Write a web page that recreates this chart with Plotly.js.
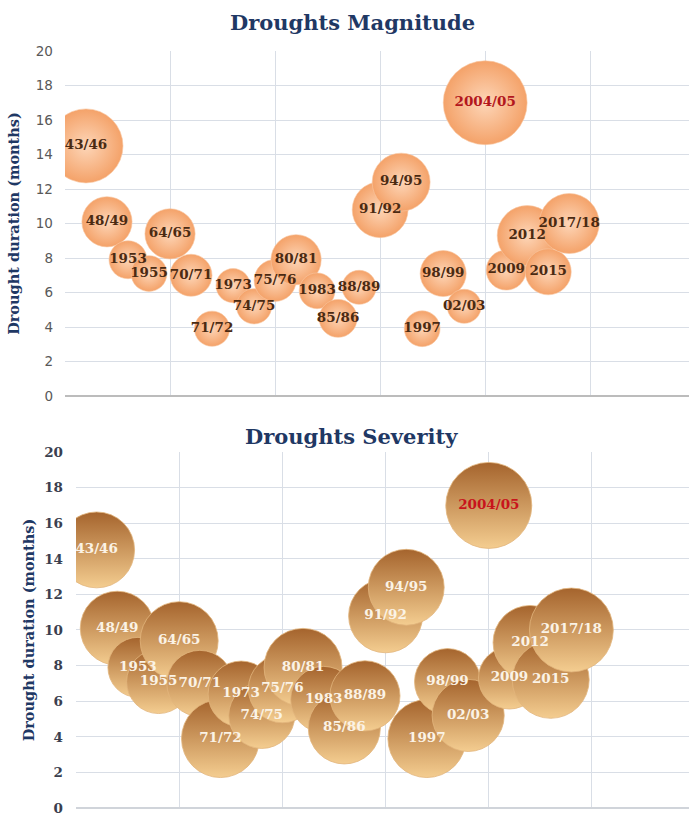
<!DOCTYPE html>
<html>
<head>
<meta charset="utf-8">
<script src="https://cdn.plot.ly/plotly-3.0.1.min.js"></script>
<style>
  html, body { margin: 0; padding: 0; background: #ffffff; }
  #chart { width: 689px; height: 815px; }
</style>
</head>
<body>
<div id="chart"></div>
<script>
// Drought events, in chronological order
const events = ['43/46', '48/49', '1953', '1955', '64/65', '70/71', '71/72', '1973',
  '74/75', '75/76', '80/81', '1983', '85/86', '88/89', '91/92', '94/95', '1997',
  '98/99', '02/03', '2004/05', '2009', '2012', '2015', '2017/18'];

// Sequence number of each event along the horizontal axis
const order = [1, 2, 3, 4, 5, 6, 7, 8, 9, 10, 11, 12, 13, 14, 15, 16, 17, 18, 19, 20, 21, 22, 23, 24];

// Drought duration (months)
const duration = [14.5, 10.1, 7.9, 7.1, 9.4, 7.0, 3.9, 6.4, 5.2, 6.7, 7.9, 6.1,
  4.5, 6.3, 10.8, 12.4, 3.9, 7.1, 5.2, 17.0, 7.3, 9.3, 7.2, 10.0];

// Drought magnitude index (bubble area, upper chart)
const magnitude = [13.7, 6.3, 3.6, 3.2, 6.3, 4.4, 3.1, 2.9, 3.1, 4.4, 6.3, 3.2,
  3.6, 2.9, 7.8, 8.4, 3.2, 5.3, 2.9, 17.6, 4.0, 9.0, 5.3, 9.0];

// Drought severity index (bubble area, lower chart)
const severity = [14.4, 13.7, 9.0, 10.2, 15.2, 10.9, 15.2, 10.9, 10.9, 11.6, 15.2, 10.9,
  13.0, 12.3, 13.7, 14.4, 15.2, 10.9, 13.0, 18.5, 9.6, 13.7, 14.8, 17.6];

// The most extreme event gets a red label
const highlight = '2004/05';

const yTicks = [0, 2, 4, 6, 8, 10, 12, 14, 16, 18, 20];

const serif = 'DejaVu Serif';
const navy = '#1f3864';
const grid = '#d9dee6';

const magLabelColors = events.map(e => e === highlight ? '#b3171d' : '#4a2a12');
const sevLabelColors = events.map(e => e === highlight ? '#c8141c' : '#fbf3e6');

const magnitudeTrace = {
  type: 'scatter',
  mode: 'markers+text',
  x: order,
  y: duration,
  text: events,
  textposition: 'middle center',
  textfont: { family: serif, size: 13.5, weight: 'bold', color: magLabelColors },
  marker: {
    size: magnitude,
    sizemode: 'area',
    sizeref: 0.005,
    color: '#f4a269',
    opacity: 1,
    gradient: { type: 'radial', color: '#fdd6b8' },
    line: { color: '#f8c8a2', width: 0.6 }
  },
  hoverinfo: 'text',
  xaxis: 'x',
  yaxis: 'y',
  showlegend: false
};

const severityTrace = {
  type: 'scatter',
  mode: 'markers+text',
  x: order,
  y: duration,
  text: events,
  textposition: 'middle center',
  textfont: { family: serif, size: 13.5, weight: 'bold', color: sevLabelColors },
  marker: {
    size: severity,
    sizemode: 'area',
    sizeref: 0.005,
    color: '#a5642d',
    opacity: 1,
    gradient: { type: 'vertical', color: '#f4cd90' },
    line: { color: '#e2b57c', width: 0.8 }
  },
  hoverinfo: 'text',
  xaxis: 'x2',
  yaxis: 'y2',
  showlegend: false
};

const xCommon = {
  range: [0, 29.7],
  tick0: 0,
  dtick: 5,
  showticklabels: false,
  ticks: '',
  showgrid: true,
  gridcolor: grid,
  gridwidth: 1,
  zeroline: false,
  showline: false,
  fixedrange: true
};

const layout = {
  width: 689,
  height: 815,
  margin: { l: 0, r: 0, t: 0, b: 0, pad: 0 },
  paper_bgcolor: '#ffffff',
  plot_bgcolor: '#ffffff',
  showlegend: false,
  xaxis: Object.assign({}, xCommon, { domain: [0.0943, 1], anchor: 'y' }),
  yaxis: {
    domain: [0.5141, 0.9374],
    anchor: 'x',
    range: [0, 20],
    tickvals: yTicks,
    ticktext: yTicks.map(String),
    tickfont: { family: 'DejaVu Sans', size: 13.5, color: '#595959' },
    ticklabelstandoff: 11,
    ticklabeloverflow: 'allow',
    ticks: '',
    showgrid: true,
    gridcolor: grid,
    zeroline: true,
    zerolinecolor: '#bcbcbc',
    zerolinewidth: 1.2,
    showline: false,
    automargin: false,
    title: {
      text: 'Drought duration (months)',
      font: { family: serif, size: 14.5, weight: 'bold', color: navy },
      standoff: 12
    }
  },
  xaxis2: Object.assign({}, xCommon, { domain: [0.1103, 1], anchor: 'y2' }),
  yaxis2: {
    domain: [0.0086, 0.4454],
    anchor: 'x2',
    range: [0, 20],
    tickvals: yTicks,
    ticktext: yTicks.map(String),
    tickfont: { family: serif, size: 13.5, weight: 'bold', color: '#3b3f4f' },
    ticklabelstandoff: 12,
    ticklabeloverflow: 'allow',
    ticks: '',
    showgrid: true,
    gridcolor: grid,
    zeroline: true,
    zerolinecolor: '#d0d4da',
    zerolinewidth: 1.2,
    showline: false,
    automargin: false,
    title: {
      text: 'Drought duration (months)',
      font: { family: serif, size: 14.5, weight: 'bold', color: navy },
      standoff: 6
    }
  },
  annotations: [
    {
      text: 'Droughts Magnitude',
      xref: 'paper', yref: 'paper',
      x: 0.511, y: 0.973,
      xanchor: 'center', yanchor: 'middle',
      showarrow: false,
      font: { family: serif, size: 21, weight: 'bold', color: navy }
    },
    {
      text: 'Droughts Severity',
      xref: 'paper', yref: 'paper',
      x: 0.51, y: 0.464,
      xanchor: 'center', yanchor: 'middle',
      showarrow: false,
      font: { family: serif, size: 21, weight: 'bold', color: navy }
    }
  ]
};

Plotly.newPlot('chart', [magnitudeTrace, severityTrace], layout, {
  displayModeBar: false,
  staticPlot: true
});
</script>
</body>
</html>
